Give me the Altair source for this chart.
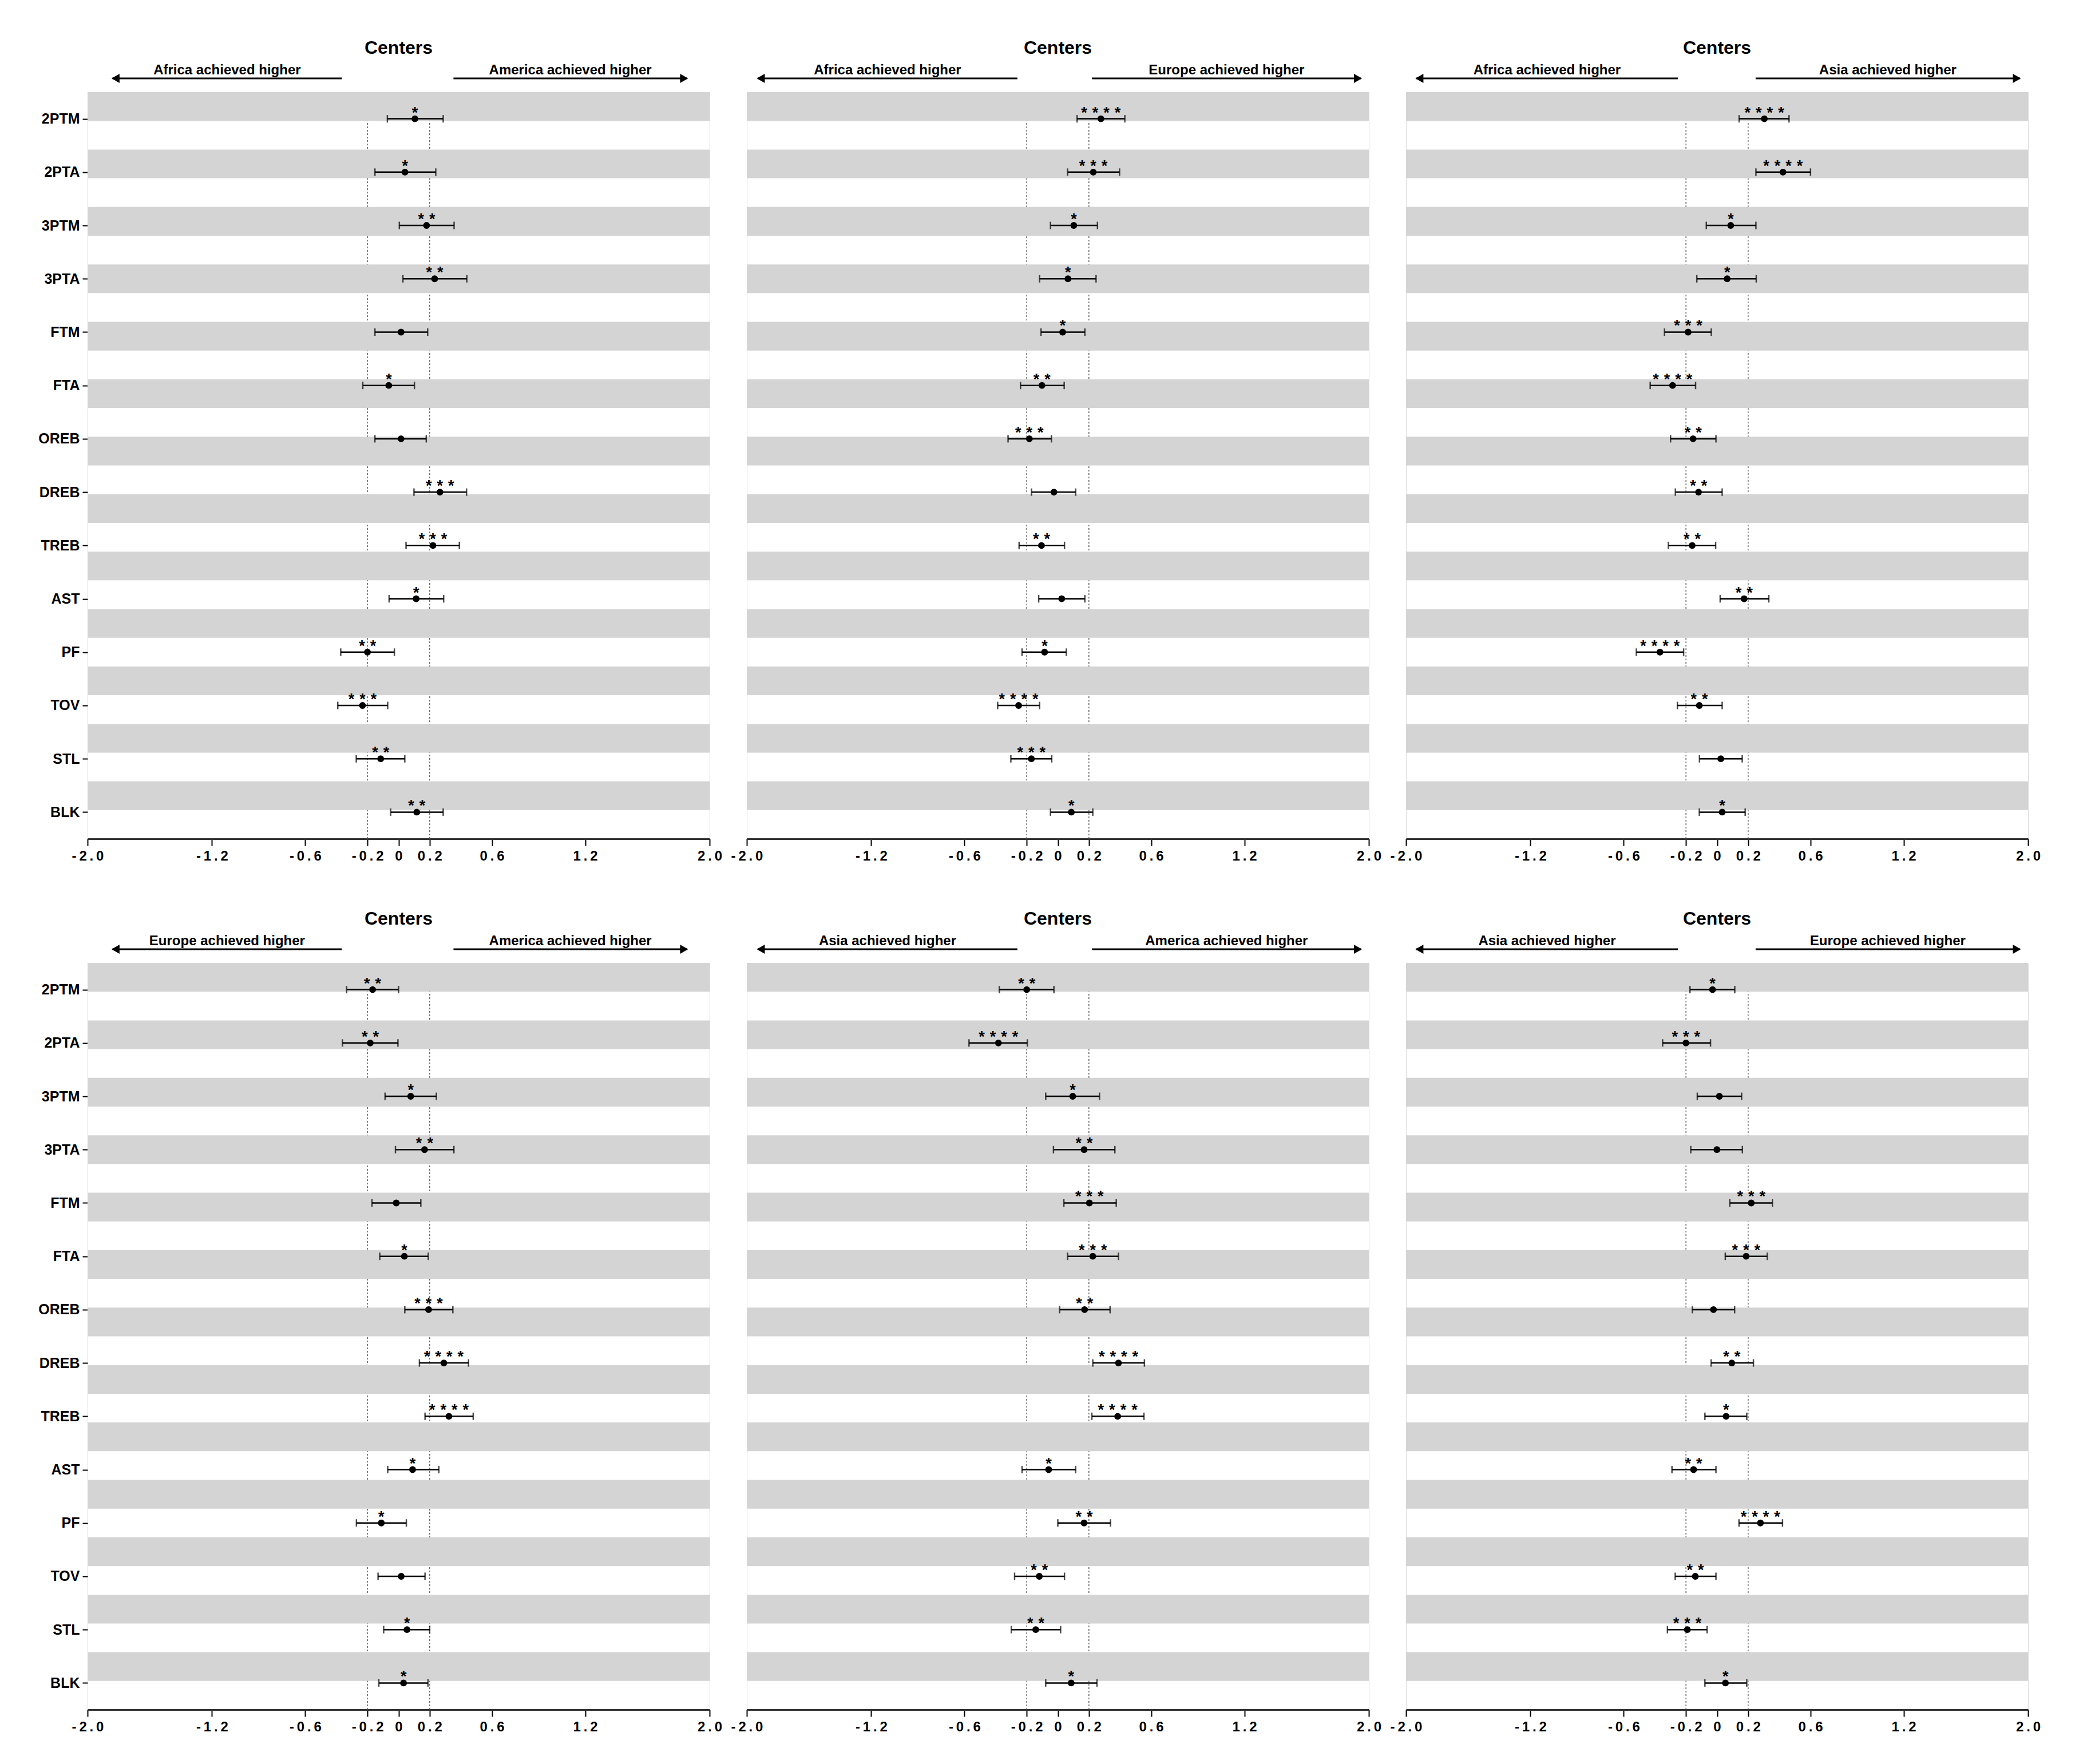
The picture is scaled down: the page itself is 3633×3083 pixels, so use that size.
import altair as alt
import pandas as pd

# ---------------- data ----------------
stats = ["2PTM", "2PTA", "3PTM", "3PTA", "FTM", "FTA", "OREB", "DREB",
         "TREB", "AST", "PF", "TOV", "STL", "BLK"]

panel_title = "Centers"

# Africa vs America
afam_est = [0.105, 0.041, 0.180, 0.232, 0.016, -0.063, 0.016, 0.266, 0.221, 0.113, -0.200, -0.232, -0.115, 0.117]
afam_lo = [-0.072, -0.152, 0.005, 0.028, -0.152, -0.230, -0.152, 0.099, 0.048, -0.061, -0.372, -0.391, -0.272, -0.051]
afam_hi = [0.287, 0.239, 0.357, 0.439, 0.187, 0.102, 0.178, 0.437, 0.391, 0.290, -0.027, -0.070, 0.040, 0.287]
afam_sig = ["*", "*", "**", "**", "", "*", "", "***", "***", "*", "**", "***", "**", "**"]

# Africa vs Europe
afeu_est = [0.277, 0.228, 0.103, 0.065, 0.031, -0.102, -0.183, -0.025, -0.105, 0.025, -0.085, -0.252, -0.170, 0.087]
afeu_lo = [0.124, 0.063, -0.047, -0.117, -0.108, -0.240, -0.320, -0.169, -0.249, -0.123, -0.230, -0.387, -0.302, -0.047]
afeu_hi = [0.431, 0.397, 0.255, 0.246, 0.174, 0.041, -0.041, 0.115, 0.043, 0.174, 0.055, -0.117, -0.039, 0.225]
afeu_sig = ["****", "***", "*", "*", "*", "**", "***", "", "**", "", "*", "****", "***", "*"]

# Africa vs Asia
afas_est = [0.304, 0.424, 0.088, 0.065, -0.186, -0.286, -0.154, -0.119, -0.160, 0.174, -0.367, -0.114, 0.024, 0.033]
afas_lo = [0.142, 0.250, -0.069, -0.130, -0.338, -0.430, -0.299, -0.268, -0.313, 0.020, -0.519, -0.255, -0.113, -0.114]
afas_hi = [0.463, 0.601, 0.250, 0.252, -0.037, -0.138, -0.007, 0.033, -0.009, 0.333, -0.215, 0.033, 0.162, 0.181]
afas_sig = ["****", "****", "*", "*", "***", "****", "**", "**", "**", "**", "****", "**", "", "*"]

# Europe vs America
euam_est = [-0.167, -0.182, 0.078, 0.167, -0.015, 0.037, 0.193, 0.291, 0.324, 0.090, -0.111, 0.017, 0.054, 0.032]
euam_lo = [-0.334, -0.361, -0.087, -0.020, -0.171, -0.121, 0.040, 0.134, 0.170, -0.070, -0.271, -0.132, -0.096, -0.127]
euam_hi = [0.000, -0.004, 0.243, 0.356, 0.143, 0.191, 0.349, 0.450, 0.480, 0.259, 0.050, 0.170, 0.200, 0.189]
euam_sig = ["**", "**", "*", "**", "", "*", "***", "****", "****", "*", "*", "", "*", "*"]

# Asia vs America
asam_est = [-0.200, -0.382, 0.096, 0.169, 0.203, 0.225, 0.172, 0.390, 0.385, -0.059, 0.169, -0.119, -0.142, 0.086]
asam_lo = [-0.376, -0.571, -0.078, -0.028, 0.039, 0.063, 0.012, 0.225, 0.219, -0.230, 0.000, -0.278, -0.299, -0.078]
asam_hi = [-0.025, -0.196, 0.268, 0.367, 0.376, 0.390, 0.336, 0.557, 0.554, 0.115, 0.339, 0.043, 0.018, 0.252]
asam_sig = ["**", "****", "*", "**", "***", "***", "**", "****", "****", "*", "**", "**", "**", "*"]

# Asia vs Europe
aseu_est = [-0.029, -0.200, 0.015, -0.001, 0.220, 0.187, -0.023, 0.095, 0.058, -0.151, 0.279, -0.140, -0.191, 0.054]
aseu_lo = [-0.174, -0.350, -0.127, -0.169, 0.082, 0.053, -0.159, -0.038, -0.078, -0.290, 0.141, -0.269, -0.319, -0.078]
aseu_hi = [0.114, -0.042, 0.158, 0.163, 0.356, 0.323, 0.113, 0.234, 0.191, -0.007, 0.421, -0.007, -0.064, 0.191]
aseu_sig = ["*", "***", "", "", "***", "***", "", "**", "*", "**", "****", "**", "***", "*"]

left_labels = ["Africa achieved higher", "Africa achieved higher", "Africa achieved higher",
               "Europe achieved higher", "Asia achieved higher", "Asia achieved higher"]
right_labels = ["America achieved higher", "Europe achieved higher", "Asia achieved higher",
                "America achieved higher", "America achieved higher", "Europe achieved higher"]

x_ticks = [-2.0, -1.2, -0.6, -0.2, 0.0, 0.2, 0.6, 1.2, 2.0]
x_tick_labels = ["-2.0", "-1.2", "-0.6", "-0.2", "0", "0.2", "0.6", "1.2", "2.0"]
ref_lines = [-0.2, 0.2]

panel_data = [
    (afam_est, afam_lo, afam_hi, afam_sig),
    (afeu_est, afeu_lo, afeu_hi, afeu_sig),
    (afas_est, afas_lo, afas_hi, afas_sig),
    (euam_est, euam_lo, euam_hi, euam_sig),
    (asam_est, asam_lo, asam_hi, asam_sig),
    (aseu_est, aseu_lo, aseu_hi, aseu_sig),
]

# ---------------- layout / style ----------------
FONT = "Liberation Sans"
W, H = 1087, 1305
# arrow extents (data units) for each column of panels
arrow_layout = [
    (-1.84, -0.365, 0.353, 1.856),
    (-1.93, -0.26, 0.22, 1.95),
    (-1.934, -0.252, 0.248, 1.948),
]

n = len(stats)
XS = alt.Scale(domain=[-2, 2], nice=False, zero=False)
YS = alt.Scale(domain=[0.5, n + 0.5], reverse=True, nice=False, zero=False)

sep = "\u2009"
spaced = [sep.join(list(s)) for s in x_tick_labels]
x_label_expr = "[" + ",".join("'" + s + "'" for s in spaced) + "][indexof([" + \
    ",".join(str(v) for v in x_ticks) + "], datum.value)]"
y_label_expr = "[" + ",".join("'" + s + "'" for s in stats) + "][datum.value - 1]"

x_axis = alt.Axis(values=x_ticks, labelExpr=x_label_expr, title=None, grid=False,
                  tickSize=12, tickWidth=2, tickColor="black",
                  labelFont=FONT, labelFontSize=24, labelFontWeight="bold",
                  labelColor="black", labelPadding=6, domainWidth=3,
                  domainColor="#333333", labelFlush=False, labelOverlap=False)
y_axis = alt.Axis(values=list(range(1, n + 1)), labelExpr=y_label_expr, title=None,
                  grid=False, domain=False, tickSize=9, tickWidth=2, tickColor="black",
                  labelFont=FONT, labelFontSize=25, labelFontWeight="bold",
                  labelColor="black", labelPadding=5)

# 26 equal horizontal stripes, grey on even ones
stripe_h = n / 26.0
stripes = pd.DataFrame({
    "y0": [0.5 + 2 * k * stripe_h for k in range(13)],
    "y1": [0.5 + (2 * k + 1) * stripe_h for k in range(13)],
})


def X(field):
    return alt.X(field, type="quantitative", scale=XS, axis=x_axis)


def make_panel(k):
    est, lo, hi, sig = panel_data[k]
    show_y = (k % 3 == 0)
    yax = y_axis if show_y else None

    def Y(field):
        return alt.Y(field, type="quantitative", scale=YS, axis=yax)

    df = pd.DataFrame({
        "idx": list(range(1, n + 1)),
        "stat": stats,
        "est": est, "lo": lo, "hi": hi,
        "stars": ["\u2004".join(list(s)) for s in sig],
    })
    a = arrow_layout[k % 3]
    arrows = pd.DataFrame({
        "xa": [a[0], a[2]],
        "xb": [a[1], a[3]],
        "xhead": [a[0] + 0.02, a[3] - 0.02],
        "xmid": [(a[0] + a[1]) / 2, (a[2] + a[3]) / 2],
        "label": [left_labels[k], right_labels[k]],
        "dir": ["left", "right"],
    })

    rules = alt.Chart(pd.DataFrame({"v": ref_lines})).mark_rule(
        color="#555555", strokeWidth=1.4, strokeDash=[3, 3]
    ).encode(x=X("v"))

    bands = alt.Chart(stripes).mark_rect(color="#d4d4d4").encode(
        y=Y("y0"), y2=alt.Y2("y1"), x=alt.value(0), x2=alt.value(W)
    )

    base = alt.Chart(df)
    err = base.mark_rule(color="black", strokeWidth=2.5).encode(
        x=X("lo"), x2=alt.X2("hi"), y=Y("idx"))
    cap_lo = base.mark_tick(color="black", orient="vertical", thickness=2.5, size=13).encode(
        x=X("lo"), y=Y("idx"))
    cap_hi = base.mark_tick(color="black", orient="vertical", thickness=2.5, size=13).encode(
        x=X("hi"), y=Y("idx"))
    pts = base.mark_circle(color="black", size=140, opacity=1).encode(
        x=X("est"), y=Y("idx"))
    stars = base.mark_text(font=FONT, fontSize=27, fontWeight="bold", color="black",
                           baseline="alphabetic", dy=-2).encode(
        x=X("est"), y=Y("idx"), text="stars:N")

    abase = alt.Chart(arrows)
    shaft = abase.mark_rule(color="black", strokeWidth=3).encode(
        x=X("xa"), x2=alt.X2("xb"), y=alt.value(-24))
    heads = abase.mark_point(filled=True, color="black", opacity=1, size=260).encode(
        x=X("xhead"), y=alt.value(-24),
        shape=alt.Shape("dir:N", scale=alt.Scale(domain=["left", "right"],
                                                   range=["triangle-left", "triangle-right"]),
                        legend=None))
    atext = abase.mark_text(font=FONT, fontSize=24, fontWeight="bold", color="black",
                            baseline="alphabetic").encode(
        x=X("xmid"), y=alt.value(-31), text="label:N")

    return alt.layer(rules, bands, err, cap_lo, cap_hi, pts, stars, shaft, heads, atext).properties(
        width=W, height=H,
        title=alt.TitleParams(panel_title, font=FONT, fontSize=32, fontWeight="bold",
                              color="black", frame="group", anchor="middle", offset=10),
    )


row1 = alt.hconcat(make_panel(0), make_panel(1), make_panel(2), spacing=14)
row2 = alt.hconcat(make_panel(3), make_panel(4), make_panel(5), spacing=14)

chart = alt.vconcat(row1, row2, spacing=80).properties(
    padding={"left": 58, "top": 59, "right": 5, "bottom": 5},
    background="white",
).configure_view(stroke="#333333", strokeWidth=2).configure(font=FONT)

chart.save("out.html", embed_options={"renderer": "svg", "actions": False})
